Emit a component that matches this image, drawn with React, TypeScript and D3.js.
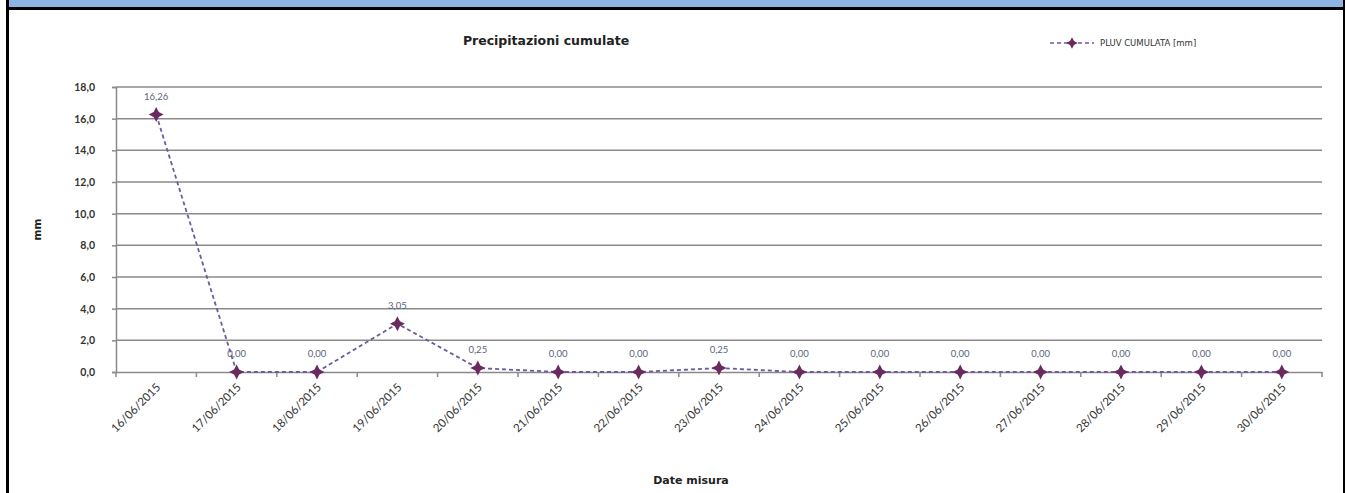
import React, { useEffect, useRef } from "react";
import * as d3 from "d3";

const dates = [
  "16/06/2015", "17/06/2015", "18/06/2015", "19/06/2015", "20/06/2015",
  "21/06/2015", "22/06/2015", "23/06/2015", "24/06/2015", "25/06/2015",
  "26/06/2015", "27/06/2015", "28/06/2015", "29/06/2015", "30/06/2015",
];
const pluvValues = [16.26, 0, 0, 3.05, 0.25, 0, 0, 0.25, 0, 0, 0, 0, 0, 0, 0];
const yTicks = [0, 2, 4, 6, 8, 10, 12, 14, 16, 18];

const W = 1345;
const H = 493;

// four point star, like the excel marker
const star4 = {
  draw(ctx: any, size: number) {
    const r = Math.sqrt(size) * 0.75;
    const k = r * 0.34;
    ctx.moveTo(0, -r);
    ctx.lineTo(k, -k);
    ctx.lineTo(r, 0);
    ctx.lineTo(k, k);
    ctx.lineTo(0, r);
    ctx.lineTo(-k, k);
    ctx.lineTo(-r, 0);
    ctx.lineTo(-k, -k);
    ctx.closePath();
  },
};

const FONT = "Lato, 'Open Sans', sans-serif";
const WIDE = "'DejaVu Sans', sans-serif";

const App = () => {
  const svgRef = useRef<SVGSVGElement | null>(null);

  useEffect(() => {
    const svg = d3.select(svgRef.current);
    svg.selectAll("*").remove();

    const margin = { top: 87, right: 23, bottom: 121, left: 116 };
    const width = W - margin.left - margin.right;
    const height = H - margin.top - margin.bottom;

    // frame
    svg.append("rect").attr("x", 8).attr("y", 0).attr("width", W - 8).attr("height", 7).attr("fill", "#8db3e2");
    svg.append("rect").attr("x", 6).attr("y", 7).attr("width", W - 6).attr("height", 3).attr("fill", "#000");
    svg.append("rect").attr("x", 6).attr("y", 0).attr("width", 3).attr("height", H).attr("fill", "#000");
    svg.append("rect").attr("x", W - 2).attr("y", 0).attr("width", 2).attr("height", H).attr("fill", "#000");

    const g = svg.append("g").attr("transform", `translate(${margin.left},${margin.top})`);

    const x = d3.scaleBand().domain(dates).range([0, width]);
    const y = d3.scaleLinear().domain([0, 18]).range([height, 0]);

    // gridlines
    g.selectAll(".grid")
      .data(yTicks.filter((t) => t > 0))
      .enter()
      .append("line")
      .attr("x1", 0)
      .attr("x2", width)
      .attr("y1", (d) => y(d))
      .attr("y2", (d) => y(d))
      .attr("stroke", "#8a8a8a")
      .attr("stroke-width", 1.5);

    // Y axis
    const yAxis = g
      .append("g")
      .call(
        d3
          .axisLeft(y)
          .tickValues(yTicks)
          .tickSize(4)
          .tickFormat((d) => d3.format(".1f")(d as number).replace(".", ","))
      );
    yAxis.select(".domain").attr("stroke", "#8a8a8a").attr("stroke-width", 1.5);
    yAxis.selectAll(".tick line").attr("stroke", "#8a8a8a").attr("stroke-width", 1.5);
    yAxis
      .selectAll("text")
      .attr("font-family", FONT)
      .attr("font-size", 10.5)
      .attr("font-weight", "bold")
      .attr("fill", "#333")
      .attr("x", -21);

    // X axis
    const xAxis = g
      .append("g")
      .attr("transform", `translate(0,${height})`)
      .call(d3.axisBottom(x).tickSize(0));
    xAxis.select(".domain").attr("stroke", "#8a8a8a").attr("stroke-width", 1.5);
    xAxis
      .selectAll(".tick text")
      .attr("font-family", FONT)
      .attr("font-size", 11.5)
      .attr("fill", "#333")
      .attr("text-anchor", "end")
      .attr("dy", 0)
      .attr("y", 0)
      .attr("transform", "translate(5,16) rotate(-45)");

    // boundary ticks
    g.selectAll(".xb")
      .data(d3.range(dates.length + 1))
      .enter()
      .append("line")
      .attr("x1", (i) => i * x.bandwidth())
      .attr("x2", (i) => i * x.bandwidth())
      .attr("y1", height)
      .attr("y2", height + 5)
      .attr("stroke", "#8a8a8a")
      .attr("stroke-width", 1.5);

    const cx = (d: string) => x(d)! + x.bandwidth() / 2;

    // line
    const line = d3
      .line<number>()
      .x((_, i) => cx(dates[i]))
      .y((d) => y(d));
    g.append("path")
      .datum(pluvValues)
      .attr("d", line)
      .attr("fill", "none")
      .attr("stroke", "#6e5a9c")
      .attr("stroke-width", 1.8)
      .attr("stroke-dasharray", "4,3");

    // markers
    const sym = d3.symbol().type(star4 as any).size(100);
    g.selectAll(".pt")
      .data(pluvValues)
      .enter()
      .append("path")
      .attr("d", sym)
      .attr("transform", (d, i) => `translate(${cx(dates[i])},${y(d)})`)
      .attr("fill", "#6b2a5e");

    // data labels
    g.selectAll(".lbl")
      .data(pluvValues)
      .enter()
      .append("text")
      .attr("x", (d, i) => cx(dates[i]))
      .attr("y", (d) => y(d) - 15)
      .attr("text-anchor", "middle")
      .attr("font-family", FONT)
      .attr("font-size", 9.5)
      .attr("fill", "#56657f")
      .text((d) => d3.format(".2f")(d).replace(".", ","));

    // titles
    svg.append("text")
      .attr("x", 546)
      .attr("y", 45)
      .attr("text-anchor", "middle")
      .attr("font-family", WIDE)
      .attr("font-size", 12.5)
      .attr("font-weight", "bold")
      .attr("fill", "#222")
      .text("Precipitazioni  cumulate");

    svg.append("text")
      .attr("x", 691)
      .attr("y", 484)
      .attr("text-anchor", "middle")
      .attr("font-family", WIDE)
      .attr("font-size", 11)
      .attr("font-weight", "bold")
      .attr("fill", "#222")
      .text("Date misura");

    svg.append("text")
      .attr("transform", `translate(41,${margin.top + height / 2}) rotate(-90)`)
      .attr("text-anchor", "middle")
      .attr("font-family", WIDE)
      .attr("font-size", 10.5)
      .attr("font-weight", "bold")
      .attr("fill", "#222")
      .text("mm");

    // legend
    const lg = svg.append("g").attr("transform", "translate(1050,43)");
    lg.append("line")
      .attr("x1", 0)
      .attr("x2", 44)
      .attr("stroke", "#6e5a9c")
      .attr("stroke-width", 1.6)
      .attr("stroke-dasharray", "4,3");
    lg.append("path").attr("d", d3.symbol().type(star4 as any).size(60)).attr("transform", "translate(22,0)").attr("fill", "#6b2a5e");
    lg.append("text")
      .attr("x", 50)
      .attr("y", 3)
      .attr("font-family", WIDE)
      .attr("font-size", 8.5)
      .attr("fill", "#333")
      .text("PLUV CUMULATA [mm]");
  }, []);

  return (
    <svg
      ref={svgRef}
      width={W}
      height={H}
      style={{ position: "absolute", left: 0, top: 0, background: "#fff" }}
    ></svg>
  );
};

export default App;
